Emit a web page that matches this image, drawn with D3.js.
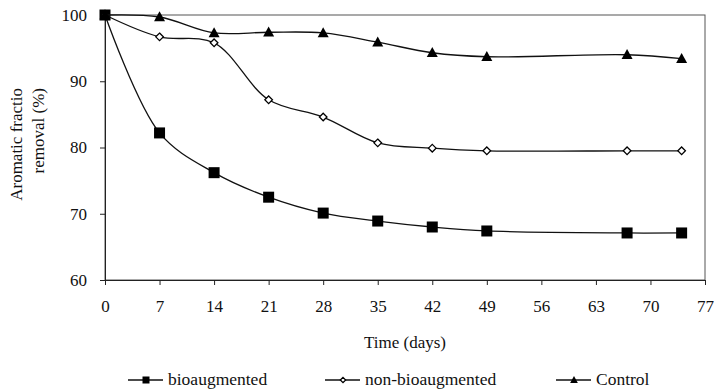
<!DOCTYPE html>
<html>
<head>
<meta charset="utf-8">
<script src="https://cdn.jsdelivr.net/npm/d3@7"></script>
<style>
  body { margin: 0; background: #fff; }
  svg text { font-family: "Liberation Serif", "Times New Roman", serif; fill: #111; }
</style>
</head>
<body>
<div id="chart"></div>
<script>
(function() {

  var width = 714, height = 392;

  // days sampled
  var days = [0, 7, 14, 21, 28, 35, 42, 49, 67, 74];
  var bioaugmented = [100, 82.2, 76.2, 72.5, 70.1, 68.9, 68.0, 67.4, 67.1, 67.1];
  var nonBioaugmented = [100, 96.7, 95.8, 87.2, 84.6, 80.7, 79.9, 79.5, 79.5, 79.5];
  var control = [100, 99.7, 97.3, 97.4, 97.3, 95.9, 94.3, 93.7, 94.0, 93.4];

  var xTicks = [0, 7, 14, 21, 28, 35, 42, 49, 56, 63, 70, 77];
  var yTicks = [60, 70, 80, 90, 100];

  var series = [
    { name: "bioaugmented", values: bioaugmented, marker: "square" },
    { name: "non-bioaugmented", values: nonBioaugmented, marker: "diamond" },
    { name: "Control", values: control, marker: "triangle" }
  ];

  var margin = { left: 105, right: 9, top: 15, bottom: 112 };

  var svg = d3.select("#chart")
    .append("svg")
    .attr("width", width)
    .attr("height", height);

  var x = d3.scaleLinear().domain([0, 77]).range([margin.left, width - margin.right]);
  var y = d3.scaleLinear().domain([60, 100]).range([height - margin.bottom, margin.top]);

  // frame (top + right)
  svg.append("rect")
    .attr("x", x(0)).attr("y", y(100))
    .attr("width", x(77) - x(0)).attr("height", y(60) - y(100))
    .attr("fill", "none").attr("stroke", "#555").attr("stroke-width", 1);

  var xAxis = svg.append("g")
    .attr("transform", "translate(0," + y(60) + ")")
    .call(d3.axisBottom(x).tickValues(xTicks).tickSize(5).tickPadding(15));
  xAxis.selectAll("text").attr("font-size", "17px");

  var yAxis = svg.append("g")
    .attr("transform", "translate(" + x(0) + ",0)")
    .call(d3.axisLeft(y).tickValues(yTicks).tickSize(5).tickPadding(13));
  yAxis.selectAll("text").attr("font-size", "17px");

  svg.selectAll(".domain, .tick line").attr("stroke", "#222");
  svg.selectAll(".tick text").attr("font-family", "Liberation Serif").attr("fill", "#111");

  // axis titles
  svg.append("text")
    .attr("x", (x(0) + x(77)) / 2).attr("y", 348)
    .attr("text-anchor", "middle")
    .attr("font-size", "17px")
    .text("Time (days)");

  var yTitle = svg.append("text")
    .attr("transform", "translate(22,88) rotate(-90)")
    .attr("text-anchor", "end")
    .attr("font-size", "17px");
  yTitle.append("tspan").attr("x", 0).attr("y", 0).text("Aromatic fractio");
  yTitle.append("tspan").attr("x", 0).attr("y", 22).text("removal (%)");

  var line = d3.line()
    .x(function(d) { return x(d.day); })
    .y(function(d) { return y(d.value); })
    .curve(d3.curveCatmullRom.alpha(0.5));

  function drawMarker(g, type, cx, cy, s) {
    if (type === "square") {
      g.append("rect")
        .attr("x", cx - s / 2).attr("y", cy - s / 2)
        .attr("width", s).attr("height", s)
        .attr("fill", "#000");
    } else if (type === "diamond") {
      var r = s * 0.38;
      g.append("path")
        .attr("d", "M" + cx + "," + (cy - r) + "L" + (cx + r) + "," + cy + "L" + cx + "," + (cy + r) + "L" + (cx - r) + "," + cy + "Z")
        .attr("fill", "#fff").attr("stroke", "#000").attr("stroke-width", 1.3);
    } else {
      var h = s * 0.95;
      g.append("path")
        .attr("d", "M" + cx + "," + (cy - h * 0.6) + "L" + (cx + s * 0.55) + "," + (cy + h * 0.45) + "L" + (cx - s * 0.55) + "," + (cy + h * 0.45) + "Z")
        .attr("fill", "#000");
    }
  }

  series.forEach(function(s) {
    var pts = days.map(function(d, i) { return { day: d, value: s.values[i] }; });
    svg.append("path")
      .datum(pts)
      .attr("d", line)
      .attr("fill", "none")
      .attr("stroke", "#111")
      .attr("stroke-width", 1.3);
    var g = svg.append("g");
    pts.forEach(function(p) {
      drawMarker(g, s.marker, x(p.day), y(p.value), s.marker === "square" ? 11 : 10);
    });
  });

  // legend
  var legendX = [128, 325, 556];
  series.forEach(function(s, i) {
    var g = svg.append("g");
    var lx = legendX[i], ly = 380;
    g.append("line")
      .attr("x1", lx).attr("x2", lx + 35)
      .attr("y1", ly).attr("y2", ly)
      .attr("stroke", "#111").attr("stroke-width", 1.5);
    drawMarker(g, s.marker, lx + 18, ly, 7);
    g.append("text")
      .attr("x", lx + 40).attr("y", ly + 5)
      .attr("font-size", "17.5px")
      .text(s.name);
  });

})();
</script>
</body>
</html>
